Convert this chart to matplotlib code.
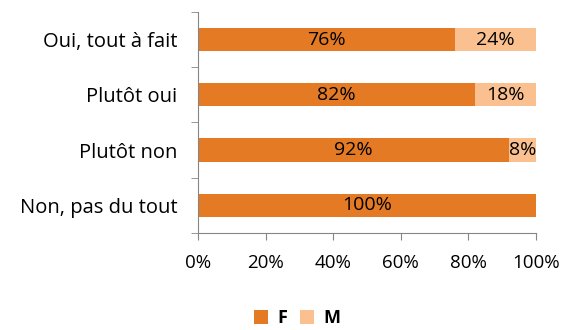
import matplotlib.pyplot as plt
import numpy as np

categories = ["Oui, tout à fait", "Plutôt oui", "Plutôt non", "Non, pas du tout"]
f_vals = [76, 82, 92, 100]
m_vals = [24, 18, 8, 0]
xticks = [0, 20, 40, 60, 80, 100]

plt.rcParams['font.family'] = ['Open Sans', 'DejaVu Sans']

fig = plt.figure(figsize=(5.66, 3.30), dpi=100)
ax = fig.add_axes([0.35, 0.294, 0.597, 0.67])

y = np.arange(len(categories))[::-1]
h = 0.42
bf = ax.barh(y, f_vals, height=h, color="#E57A25", label="F")
bm = ax.barh(y, m_vals, left=f_vals, height=h, color="#FAC090", label="M")

for yi, f, m in zip(y, f_vals, m_vals):
    ax.text(f / 2, yi, f"{f}%", ha="center", va="center", fontsize=14)
    if m > 0:
        ax.text(f + m / 2, yi, f"{m}%", ha="center", va="center", fontsize=14)

ax.set_xlim(0, 100)
ax.set_ylim(-0.5, len(categories) - 0.5)
ax.set_xticks(xticks)
ax.set_xticklabels([f"{t}%" for t in xticks], fontsize=13.5)
ax.set_yticks(y)
ax.set_yticklabels(categories, fontsize=14.5)
ax.set_yticks(np.arange(-0.5, len(categories)), minor=True)
ax.tick_params(axis="y", which="major", length=0, pad=15)
ax.tick_params(axis="y", which="minor", length=5, color="#868686")
ax.tick_params(axis="x", length=5, color="#868686", pad=10)
for s in ["top", "right"]:
    ax.spines[s].set_visible(False)
for s in ["left", "bottom"]:
    ax.spines[s].set_color("#868686")

fig.legend(handles=[bf, bm], loc="center", bbox_to_anchor=(0.525, 0.035), ncol=2,
           frameon=False, handlelength=0.8, handleheight=0.8, columnspacing=0.7,
           handletextpad=0.5, prop={"weight": "bold", "size": 13})

fig.savefig("out.png", dpi=100)
